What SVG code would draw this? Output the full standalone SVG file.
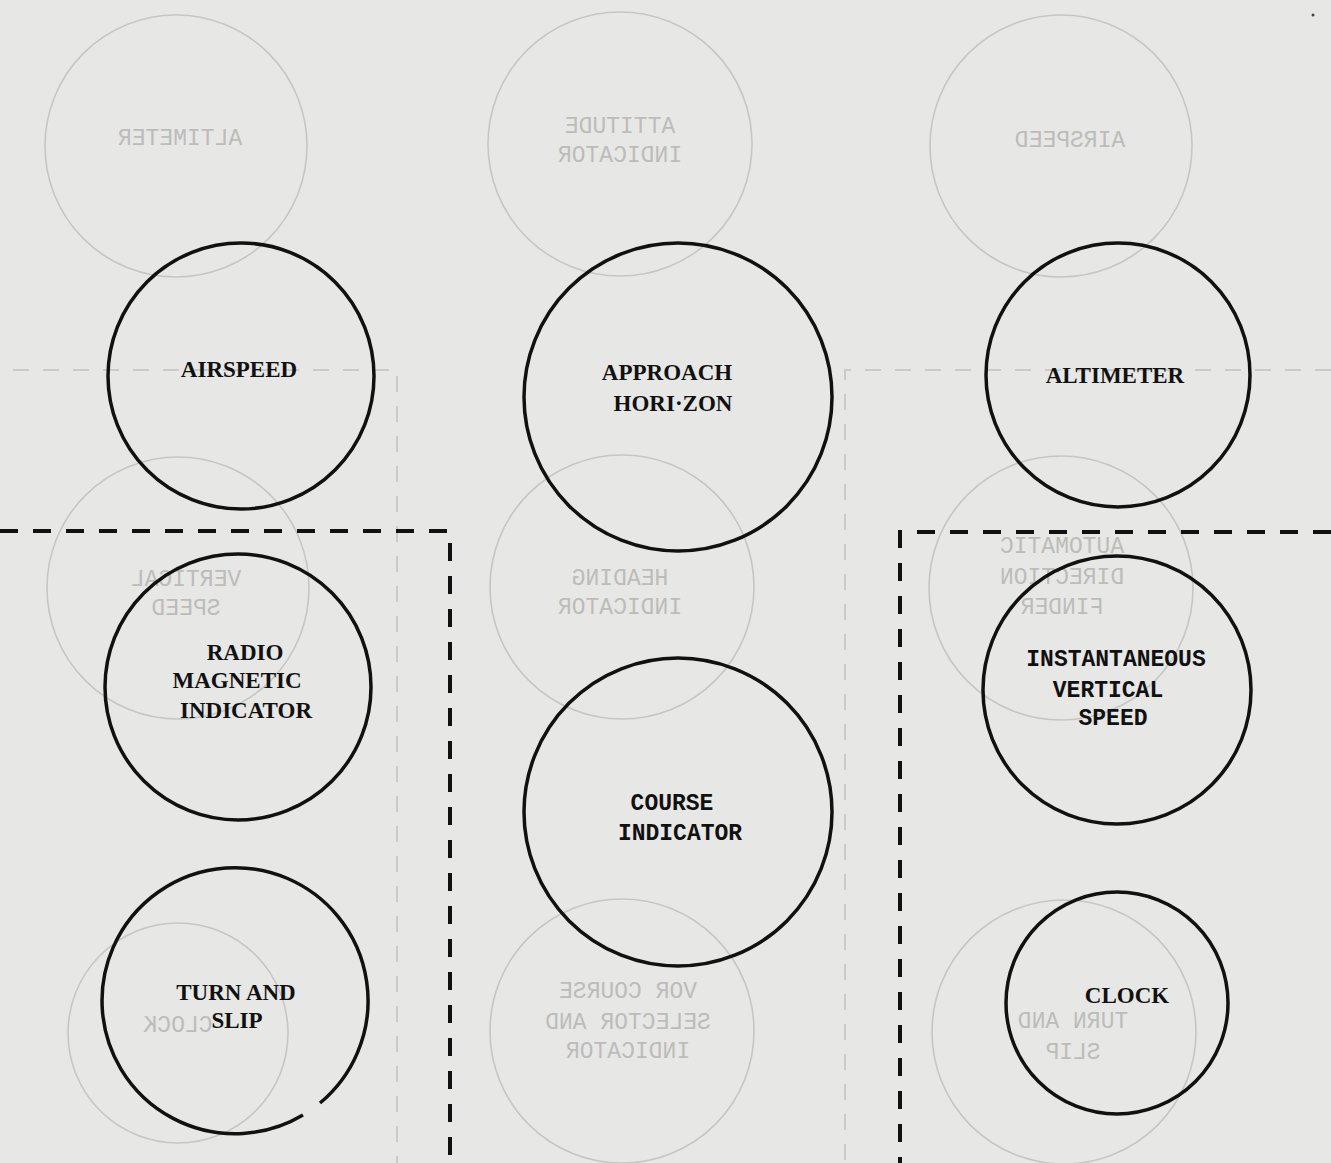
<svg xmlns="http://www.w3.org/2000/svg" width="1331" height="1163" viewBox="0 0 1331 1163">
<style>
.bg{fill:#e7e7e5}
.ghost{fill:none;stroke:#c6c6c4;stroke-width:1.6}
.ghostline{fill:none;stroke:#cacac8;stroke-width:2;stroke-dasharray:16 14}
.gt{font-family:"Liberation Mono","DejaVu Sans Mono",monospace;font-size:23px;fill:#bcbcba;text-anchor:middle}
.dial{fill:none;stroke:#111;stroke-width:3.5}
.lbl{font-family:"Liberation Serif","DejaVu Serif",serif;font-weight:bold;font-size:23px;fill:#111;text-anchor:middle}
.lbl2{font-family:"Liberation Mono","DejaVu Sans Mono",monospace;font-weight:bold;font-size:23px;fill:#111;text-anchor:middle}
.divider{fill:none;stroke:#111;stroke-width:4;stroke-dasharray:18 15}
</style>
<rect class="bg" x="0" y="0" width="1331" height="1163"/>

<g id="show-through">
  <path class="ghostline" d="M13,370 H397 V1163"/>
  <path class="ghostline" d="M1331,370 H845 V1163"/>
  <circle class="ghost" cx="176" cy="146" r="131"/>
  <circle class="ghost" cx="620" cy="144" r="132"/>
  <circle class="ghost" cx="1061" cy="146" r="131"/>
  <circle class="ghost" cx="178" cy="588" r="131"/>
  <circle class="ghost" cx="622" cy="587" r="132"/>
  <circle class="ghost" cx="1061" cy="588" r="132"/>
  <circle class="ghost" cx="178" cy="1033" r="110"/>
  <circle class="ghost" cx="622" cy="1031" r="132"/>
  <circle class="ghost" cx="1064" cy="1032" r="132"/>
  <g transform="translate(360,0) scale(-1,1)"><text class="gt" x="180" y="145">ALTIMETER</text></g>
  <g transform="translate(1240,0) scale(-1,1)"><text class="gt" x="620" y="133">ATTITUDE</text><text class="gt" x="620" y="162">INDICATOR</text></g>
  <g transform="translate(2140,0) scale(-1,1)"><text class="gt" x="1070" y="147">AIRSPEED</text></g>
  <g transform="translate(372,0) scale(-1,1)"><text class="gt" x="186" y="586">VERTICAL</text><text class="gt" x="186" y="615">SPEED</text></g>
  <g transform="translate(1240,0) scale(-1,1)"><text class="gt" x="620" y="585">HEADING</text><text class="gt" x="620" y="614">INDICATOR</text></g>
  <g transform="translate(2124,0) scale(-1,1)"><text class="gt" x="1062" y="553">AUTOMATIC</text><text class="gt" x="1062" y="584">DIRECTION</text><text class="gt" x="1062" y="614">FINDER</text></g>
  <g transform="translate(356,0) scale(-1,1)"><text class="gt" x="178" y="1032">CLOCK</text></g>
  <g transform="translate(1256,0) scale(-1,1)"><text class="gt" x="628" y="998">VOR COURSE</text><text class="gt" x="628" y="1029">SELECTOR AND</text><text class="gt" x="628" y="1058">INDICATOR</text></g>
  <g transform="translate(2146,0) scale(-1,1)"><text class="gt" x="1073" y="1028">TURN AND</text><text class="gt" x="1073" y="1059">SLIP</text></g>
  <circle cx="1313" cy="15" r="1.5" fill="#444"/>
</g>

<g id="connectors">
  <path class="divider" d="M0,531 H450 V1163"/>
  <path class="divider" d="M1331,532 H900 V1163"/>
</g>

<g id="node-airspeed">
  <circle class="dial" cx="241" cy="376" r="133"/>
  <text class="lbl" x="239" y="377">AIRSPEED</text>
</g>
<g id="node-approach-horizon">
  <circle class="dial" cx="678" cy="397" r="154"/>
  <text class="lbl" x="667" y="380">APPROACH</text>
  <text class="lbl" x="673" y="411">HORI·ZON</text>
</g>
<g id="node-altimeter">
  <circle class="dial" cx="1118" cy="375" r="132"/>
  <text class="lbl" x="1115" y="383">ALTIMETER</text>
</g>
<g id="node-radio-magnetic-indicator">
  <circle class="dial" cx="238" cy="687" r="133"/>
  <text class="lbl" x="245" y="660">RADIO</text>
  <text class="lbl" x="237" y="688">MAGNETIC</text>
  <text class="lbl" x="246" y="718">INDICATOR</text>
</g>
<g id="node-course-indicator">
  <circle class="dial" cx="678" cy="812" r="154"/>
  <text class="lbl2" x="672" y="810">COURSE</text>
  <text class="lbl2" x="680" y="840">INDICATOR</text>
</g>
<g id="node-instantaneous-vertical-speed">
  <circle class="dial" cx="1117" cy="690" r="134"/>
  <text class="lbl2" x="1116" y="666">INSTANTANEOUS</text>
  <text class="lbl2" x="1108" y="697">VERTICAL</text>
  <text class="lbl2" x="1113" y="725">SPEED</text>
</g>
<g id="node-turn-and-slip">
  <path class="dial" d="M320,1103 A133,133 0 1 0 303,1115"/>
  <text class="lbl" x="236" y="1000">TURN AND</text>
  <text class="lbl" x="237" y="1028">SLIP</text>
</g>
<g id="node-clock">
  <circle class="dial" cx="1117" cy="1003" r="111"/>
  <text class="lbl" x="1127" y="1003">CLOCK</text>
</g>
</svg>
